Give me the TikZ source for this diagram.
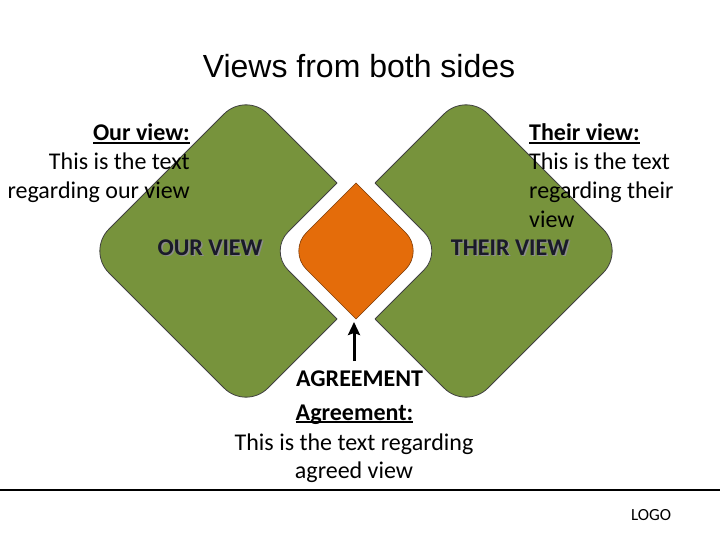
\documentclass[tikz,border=0pt]{standalone}
\usepackage{fontspec}
\setmainfont{Carlito}
\newfontfamily\titlefont{Liberation Sans}
\usetikzlibrary{arrows.meta}
\definecolor{viewgreen}{HTML}{77933C}
\definecolor{agreeorange}{HTML}{E46C0A}
\definecolor{labeldark}{HTML}{1A1A2A}
\newcommand\myul[1]{\setbox0=\hbox{#1}\rlap{\rule[-2.8pt]{\wd0}{1.4pt}}\box0}
\begin{document}
\begin{tikzpicture}[x=1pt,y=-1pt,
  greenshape/.style={fill=viewgreen, draw=black!75, line width=0.8pt, rounded corners=31pt},
  gapline/.style={draw=black!75, line width=0.8pt},
  orangeshape/.style={fill=agreeorange, draw=agreeorange!55!black, line width=0.6pt},
  titletext/.style={font=\titlefont\fontsize{32}{38}\selectfont, inner sep=0pt, anchor=base},
  body/.style={font=\fontsize{24}{29}\selectfont, inner sep=0pt, text=black},
  shapelabel/.style={font=\fontsize{24}{29}\selectfont\bfseries, inner sep=0pt, anchor=base, text=labeldark},
  shadowlabel/.style={font=\fontsize{24}{29}\selectfont\bfseries, inner sep=0pt, anchor=base, text=black!45},
  uparrow/.style={line width=3pt, -{Stealth[length=13pt,width=12pt,inset=2pt]}},
  logotext/.style={font=\fontsize{17}{20}\selectfont, inner sep=0pt, anchor=base}
]
\useasboundingbox (0,0) rectangle (720,540);
\fill[white] (0,0) rectangle (720,540);

% green views
\path[greenshape] (87,251) -- (246,92) -- (405,251) -- (246,410) -- cycle;
\path[greenshape] (307,251) -- (466,92) -- (625,251) -- (466,410) -- cycle;

% white gap around the agreement shape
\fill[white] (356,164) -- (423.91,231.91) .. controls (434.45,242.45) and (434.45,259.55) .. (423.91,270.09) -- (356,338) -- (288.09,270.09) .. controls (277.55,259.55) and (277.55,242.45) .. (288.09,231.91) -- cycle;
\begin{scope}
  \clip[rounded corners=31pt] (87,251) -- (246,92) -- (405,251) -- (246,410) -- cycle
        (307,251) -- (466,92) -- (625,251) -- (466,410) -- cycle;
  \draw[gapline] (356,164) -- (423.91,231.91) .. controls (434.45,242.45) and (434.45,259.55) .. (423.91,270.09) -- (356,338) -- (288.09,270.09) .. controls (277.55,259.55) and (277.55,242.45) .. (288.09,231.91) -- cycle;
\end{scope}

% orange agreement shape
\path[orangeshape] (356,183) -- (405.62,232.62) .. controls (415.77,242.77) and (415.77,259.23) .. (405.62,269.38) -- (356,319) -- (306.38,269.38) .. controls (296.23,259.23) and (296.23,242.77) .. (306.38,232.62) -- cycle;

% arrow
\coordinate (agreeTip) at (354,322);
\coordinate (agreeTail) at (354,361);
\draw[uparrow] (agreeTail) -- (agreeTip);

% title
\node[titletext] (title) at (359,78) {Views from both sides};

% shape labels
\node[shadowlabel] (ourShadow) at (211.5,256.5) {OUR VIEW};
\node[shapelabel] (ourLabel) at (210,255) {OUR VIEW};
\node[shadowlabel] (theirShadow) at (511.5,256.5) {THEIR VIEW};
\node[shapelabel] (theirLabel) at (510,255) {THEIR VIEW};

% our view text
\node[body, anchor=base east] (ourHead) at (190,141) {\myul{\textbf{Our view:}}};
\node[body, anchor=base east] (ourLine1) at (190,170) {This is the text};
\node[body, anchor=base east] (ourLine2) at (190,199) {regarding our view};

% their view text
\node[body, anchor=base west] (theirHead) at (529,141) {\myul{\textbf{Their view:}}};
\node[body, anchor=base west] (theirLine1) at (529,170) {This is the text};
\node[body, anchor=base west] (theirLine2) at (529,199) {regarding their};
\node[body, anchor=base west] (theirLine3) at (529,228) {view};

% agreement text
\node[body, anchor=base west, font=\fontsize{24}{29}\selectfont\bfseries] (agreeLabel) at (296,386) {AGREEMENT};
\node[body, anchor=base] (agreeHead) at (354.5,420) {\myul{\textbf{Agreement:}}};
\node[body, anchor=base] (agreeLine1) at (354,450) {This is the text regarding};
\node[body, anchor=base] (agreeLine2) at (354,478) {agreed view};

% footer
\coordinate (footLeft) at (0,490);
\coordinate (footRight) at (720,490);
\draw[line width=1.5pt] (footLeft) -- (footRight);
\node[logotext] (logo) at (651,520) {LOGO};
\end{tikzpicture}
\end{document}
